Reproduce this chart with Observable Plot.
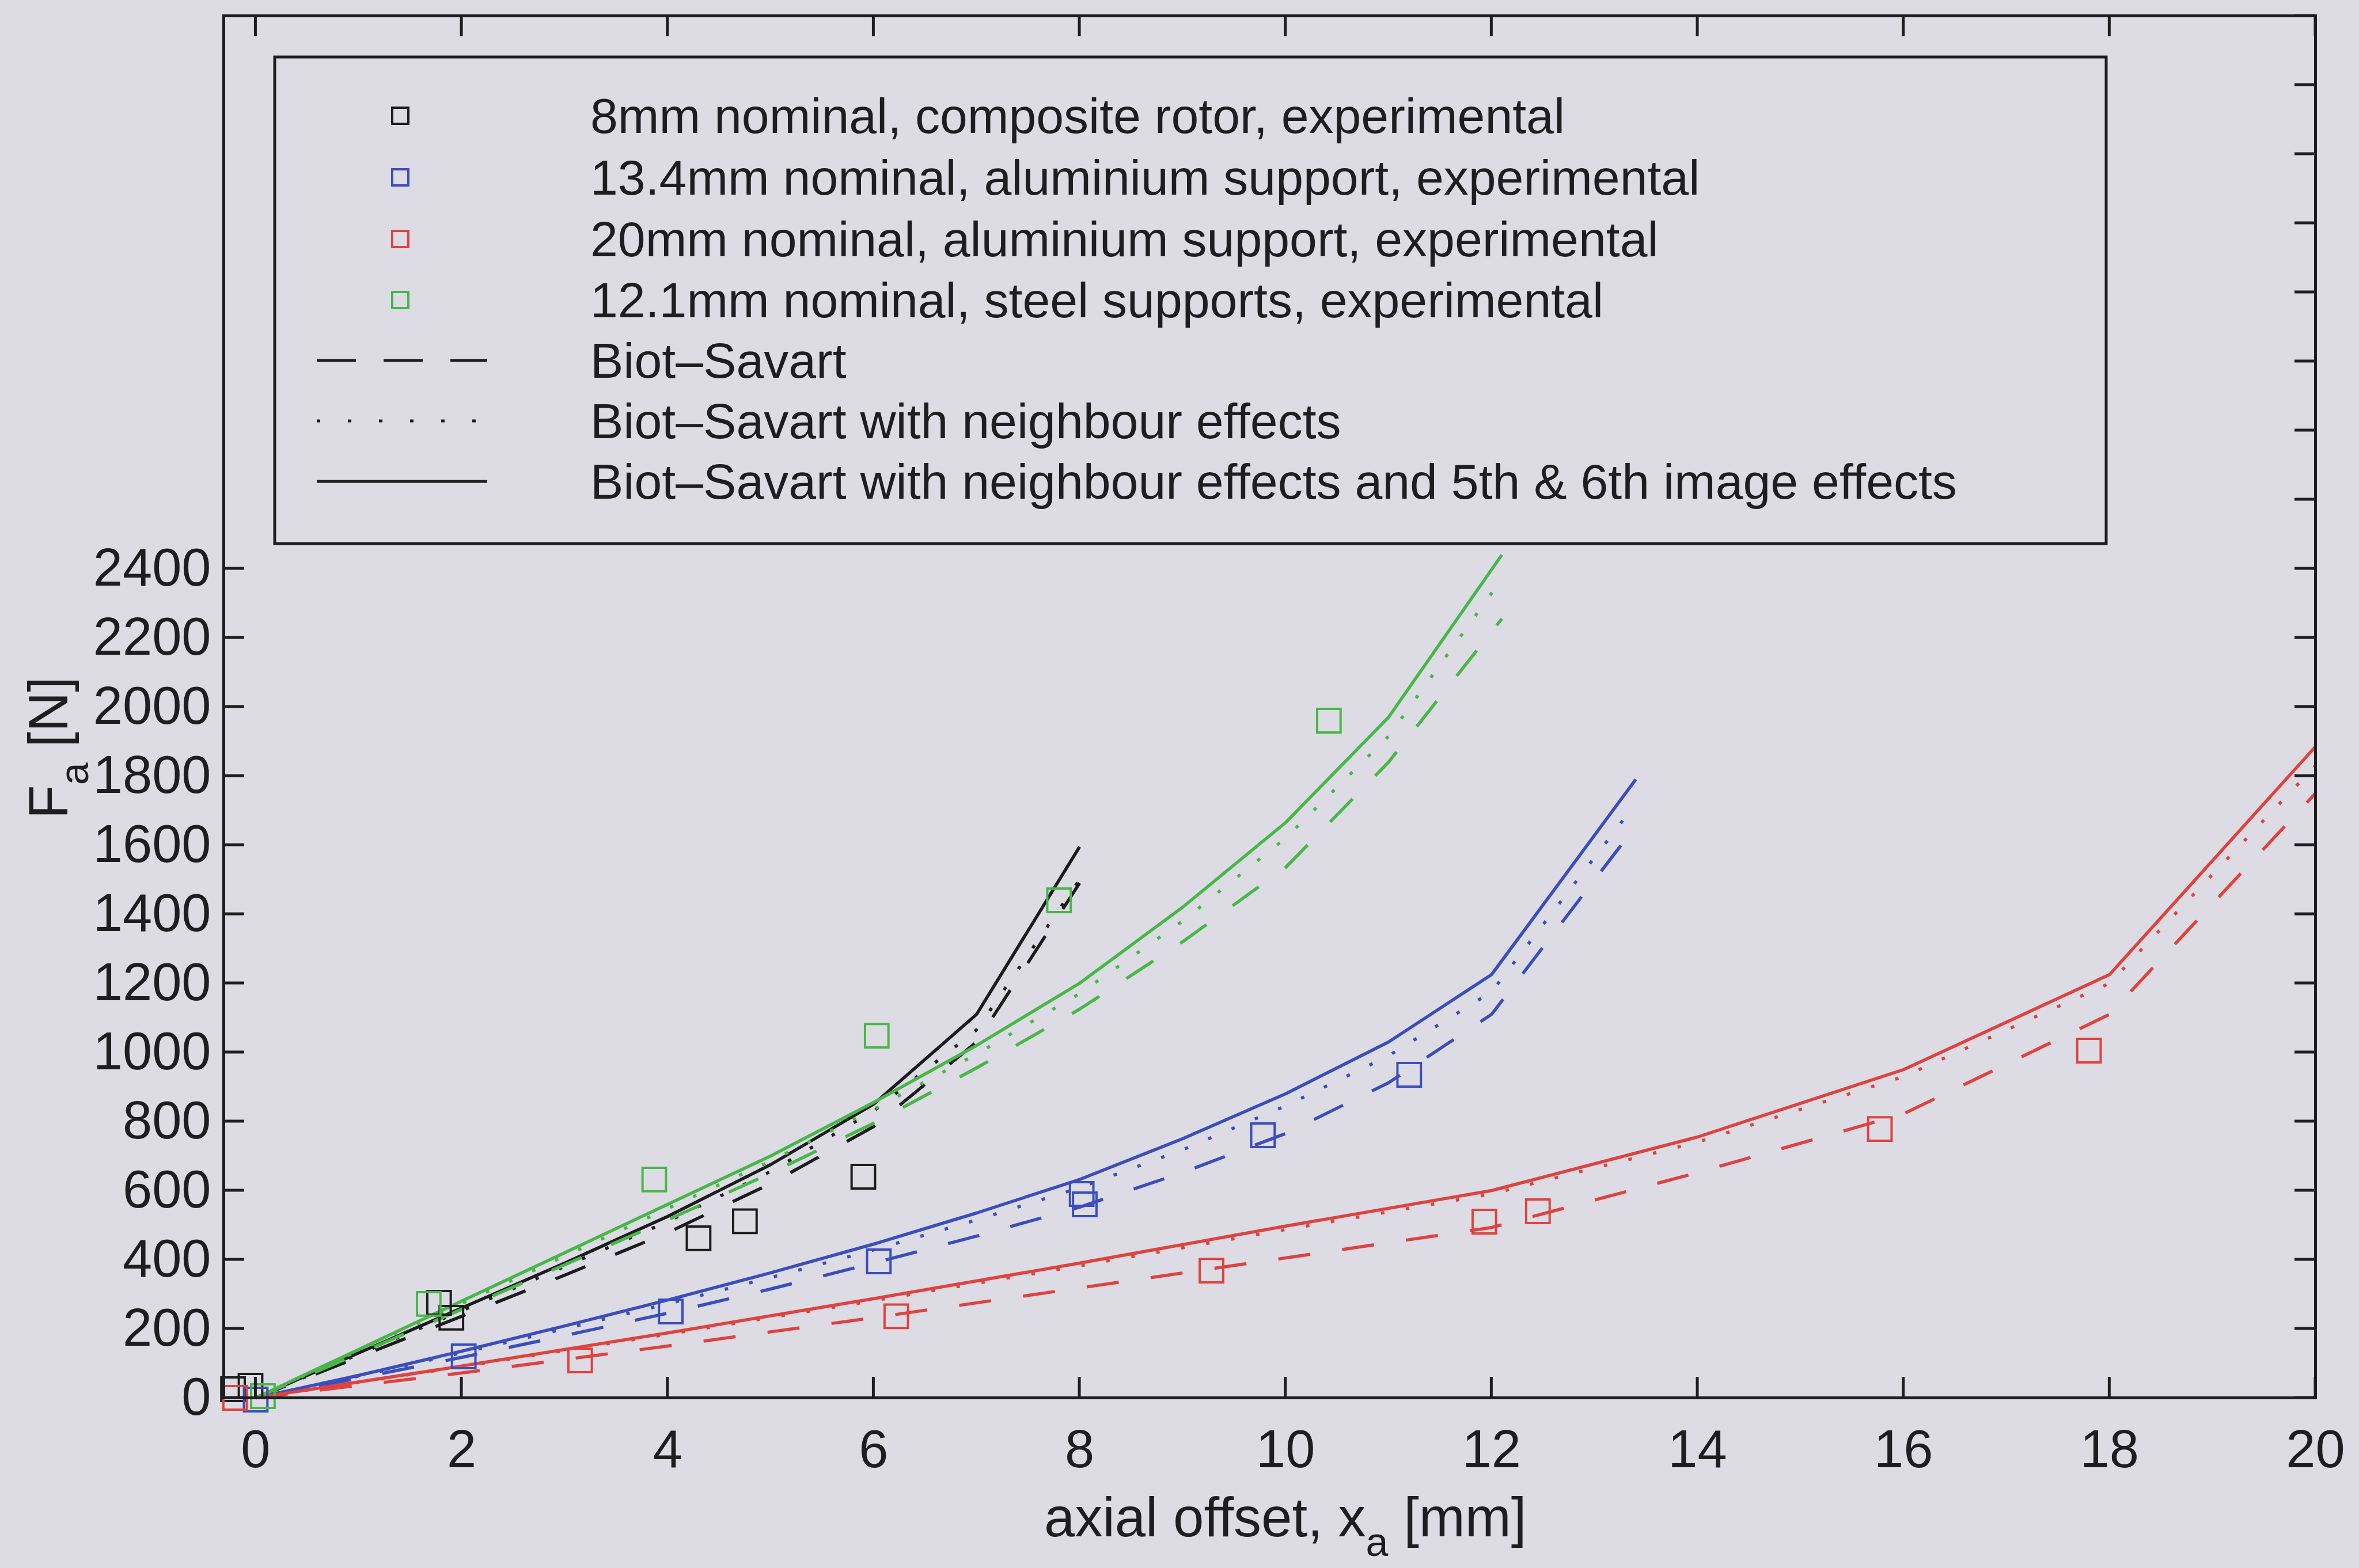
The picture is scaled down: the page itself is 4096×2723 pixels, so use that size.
<!DOCTYPE html>
<html>
<head>
<meta charset="utf-8">
<script src="https://cdn.jsdelivr.net/npm/d3@7"></script>
<script src="https://cdn.jsdelivr.net/npm/@observablehq/plot@0.6"></script>
<style>
html, body { margin: 0; padding: 0; background: #dddce4; }
#chart { width: 4096px; height: 2723px; }
</style>
</head>
<body>
<div id="chart"></div>
<script>
// ---------- tick values ----------
const xTickValues = [0, 2, 4, 6, 8, 10, 12, 14, 16, 18, 20];
const yTickLabelValues = [0, 200, 400, 600, 800, 1000, 1200, 1400, 1600, 1800, 2000, 2200, 2400];
const yTickRightValues = [0, 200, 400, 600, 800, 1000, 1200, 1400, 1600, 1800, 2000, 2200, 2400, 2600, 2800, 3000, 3200, 3400, 3600, 3800, 4000];

// ---------- model curves ----------
const black8X      = [0, 1, 2, 3, 4, 5, 6, 7, 8];
const black8Solid  = [0, 130, 260, 390, 525, 675, 850, 1110, 1595];
const black8Dotted = [0, 126, 252, 380, 510, 655, 830, 1065, 1500];
const black8Dashed = [0, 118, 236, 355, 478, 620, 785, 1030, 1490];

const blue13X      = [0, 1, 2, 3, 4, 5, 6, 7, 8, 9, 10, 11, 12, 13.4];
const blue13Solid  = [0, 65, 135, 208, 283, 362, 445, 535, 632, 750, 880, 1030, 1225, 1790];
const blue13Dotted = [0, 63, 130, 200, 272, 348, 428, 515, 608, 718, 845, 990, 1175, 1720];
const blue13Dashed = [0, 57, 117, 180, 245, 315, 390, 468, 552, 652, 765, 912, 1110, 1655];

const red20X      = [0, 2, 4, 6, 8, 10, 12, 14, 16, 18, 20];
const red20Solid  = [0, 92, 188, 287, 390, 497, 600, 755, 950, 1225, 1885];
const red20Dotted = [0, 90, 184, 281, 382, 487, 590, 740, 930, 1200, 1830];
const red20Dashed = [0, 72, 150, 232, 318, 405, 493, 652, 822, 1110, 1750];

const green12X      = [0, 1, 2, 3, 4, 5, 6, 7, 8, 9, 10, 11, 12.1];
const green12Solid  = [0, 140, 280, 420, 560, 700, 855, 1020, 1200, 1420, 1665, 1970, 2440];
const green12Dotted = [0, 137, 273, 410, 548, 685, 835, 995, 1170, 1380, 1620, 1915, 2370];
const green12Dashed = [0, 128, 256, 385, 515, 650, 795, 955, 1125, 1320, 1535, 1840, 2255];

// ---------- experimental points ----------
const blackExpX = [-0.22, -0.05, 1.78, 1.9, 4.3, 4.75, 5.9];
const blackExpY = [25, 35, 275, 232, 462, 511, 640];
const blueExpX  = [0, 2.02, 4.03, 6.05, 8.02, 8.05, 9.78, 11.2];
const blueExpY  = [-5, 120, 250, 395, 590, 560, 760, 935];
const redExpX   = [-0.2, 3.15, 6.22, 9.28, 11.93, 12.45, 15.77, 17.8];
const redExpY   = [0, 108, 236, 368, 510, 540, 778, 1005];
const greenExpX = [0.07, 1.68, 3.87, 6.03, 7.8, 10.42];
const greenExpY = [5, 272, 632, 1048, 1440, 1960];

// ---------- legend texts ----------
const legendLabels = [
  "8mm nominal, composite rotor, experimental",
  "13.4mm nominal, aluminium support, experimental",
  "20mm nominal, aluminium support, experimental",
  "12.1mm nominal, steel supports, experimental",
  "Biot\u2013Savart",
  "Biot\u2013Savart with neighbour effects",
  "Biot\u2013Savart with neighbour effects and 5th & 6th image effects"
];

// ---------- styles ----------
const colors = { black: "#1c1c1e", blue: "#3a4ec0", red: "#e0423e", green: "#47b847" };
const dashes = { solid: null, dotted: "6,38", dashed: "56,56" };
const bg = "#dddce4";
const ink = "#1e1e22";

const pts = (xs, ys) => xs.map((x, i) => ({ x, y: ys[i] }));

const curves = [
  ["black", "dashed", black8X, black8Dashed], ["black", "dotted", black8X, black8Dotted], ["black", "solid", black8X, black8Solid],
  ["blue", "dashed", blue13X, blue13Dashed], ["blue", "dotted", blue13X, blue13Dotted], ["blue", "solid", blue13X, blue13Solid],
  ["red", "dashed", red20X, red20Dashed], ["red", "dotted", red20X, red20Dotted], ["red", "solid", red20X, red20Solid],
  ["green", "dashed", green12X, green12Dashed], ["green", "dotted", green12X, green12Dotted], ["green", "solid", green12X, green12Solid]
];
const exps = [
  ["black", blackExpX, blackExpY], ["blue", blueExpX, blueExpY],
  ["red", redExpX, redExpY], ["green", greenExpX, greenExpY]
];

const marks = [];
for (const [c, m, xs, ys] of curves) {
  marks.push(Plot.line(pts(xs, ys), {
    x: "x", y: "y", stroke: colors[c], strokeWidth: 5.5,
    strokeDasharray: dashes[m], strokeLinecap: "butt", strokeLinejoin: "miter"
  }));
}
for (const [c, xs, ys] of exps) {
  marks.push(Plot.dot(pts(xs, ys), {
    x: "x", y: "y", symbol: "square", r: 23, stroke: colors[c], fill: "none", strokeWidth: 4
  }));
}
marks.push(Plot.frame({ stroke: ink, strokeWidth: 5 }));

const W = 4096, H = 2723;
const chart = Plot.plot({
  width: W, height: H,
  marginLeft: 388, marginRight: 76, marginTop: 27, marginBottom: 296,
  style: { background: "transparent", fontFamily: "'Liberation Sans', Arial, Helvetica, sans-serif", fontSize: "92px", color: ink },
  x: { domain: [-0.31, 20], ticks: xTickValues, tickSize: 0, tickPadding: 55, tickFormat: "d", label: null },
  y: { domain: [0, 4000], ticks: yTickLabelValues, tickSize: 0, tickPadding: 22, tickFormat: "d", label: null },
  marks
});
document.getElementById("chart").appendChild(chart);

// ---------- inward ticks (MATLAB box style) ----------
const sx = chart.scale("x"), sy = chart.scale("y");
const [x0d, x1d] = sx.domain, [y0d, y1d] = sy.domain;
const L = sx.apply(x0d), R = sx.apply(x1d), B = sy.apply(y0d), T = sy.apply(y1d);
const tl = 36;
const svg = d3.select(chart);
const tg = svg.append("g").attr("stroke", ink).attr("stroke-width", 5);
for (const v of xTickValues) {
  const px = sx.apply(v);
  tg.append("line").attr("x1", px).attr("x2", px).attr("y1", B).attr("y2", B - tl);
  tg.append("line").attr("x1", px).attr("x2", px).attr("y1", T).attr("y2", T + tl);
}
for (const v of yTickLabelValues) {
  const py = sy.apply(v);
  tg.append("line").attr("x1", L).attr("x2", L + tl).attr("y1", py).attr("y2", py);
}
for (const v of yTickRightValues) {
  const py = sy.apply(v);
  tg.append("line").attr("x1", R).attr("x2", R - tl).attr("y1", py).attr("y2", py);
}

// ---------- axis labels with subscripts ----------
const font = "'Liberation Sans', Arial, Helvetica, sans-serif";
const xl = svg.append("text").attr("x", 1813).attr("y", 2668).attr("font-size", 96)
  .attr("font-family", font).attr("fill", ink).attr("text-anchor", "start");
xl.append("tspan").text("axial offset, x");
xl.append("tspan").attr("dy", 34).attr("font-size", 70).text("a");
xl.append("tspan").attr("dy", -34).text(" [mm]");

const yl = svg.append("text").attr("transform", "translate(117,1422) rotate(-90)").attr("font-size", 96)
  .attr("font-family", font).attr("fill", ink).attr("text-anchor", "start");
yl.append("tspan").text("F");
yl.append("tspan").attr("dy", 36).attr("font-size", 70).text("a");
yl.append("tspan").attr("dy", -36).text(" [N]");

// ---------- legend ----------
const lg = svg.append("g").attr("text-anchor", "start");
lg.append("rect").attr("x", 477).attr("y", 99).attr("width", 3180).attr("height", 845)
  .attr("fill", bg).attr("stroke", ink).attr("stroke-width", 5);
const rowY = [201, 308, 415, 521, 626, 731, 836];
const sampleColors = [colors.black, colors.blue, colors.red, colors.green];
for (let i = 0; i < 4; i++) {
  lg.append("rect").attr("x", 695 - 14).attr("y", rowY[i] - 14).attr("width", 28).attr("height", 28)
    .attr("fill", "none").attr("stroke", sampleColors[i]).attr("stroke-width", 4);
}
const lineSamples = ["68,48", "6,48", null];
for (let j = 0; j < 3; j++) {
  const ln = lg.append("line").attr("x1", 550).attr("x2", 846).attr("y1", rowY[4 + j]).attr("y2", rowY[4 + j])
    .attr("stroke", ink).attr("stroke-width", 5);
  if (lineSamples[j]) ln.attr("stroke-dasharray", lineSamples[j]);
}
legendLabels.forEach((t, i) => {
  lg.append("text").attr("x", 1025).attr("y", rowY[i]).attr("dy", "0.35em")
    .attr("font-size", 86).attr("font-family", font).attr("fill", ink)
    .attr("text-anchor", "start").text(t);
});
</script>
</body>
</html>
